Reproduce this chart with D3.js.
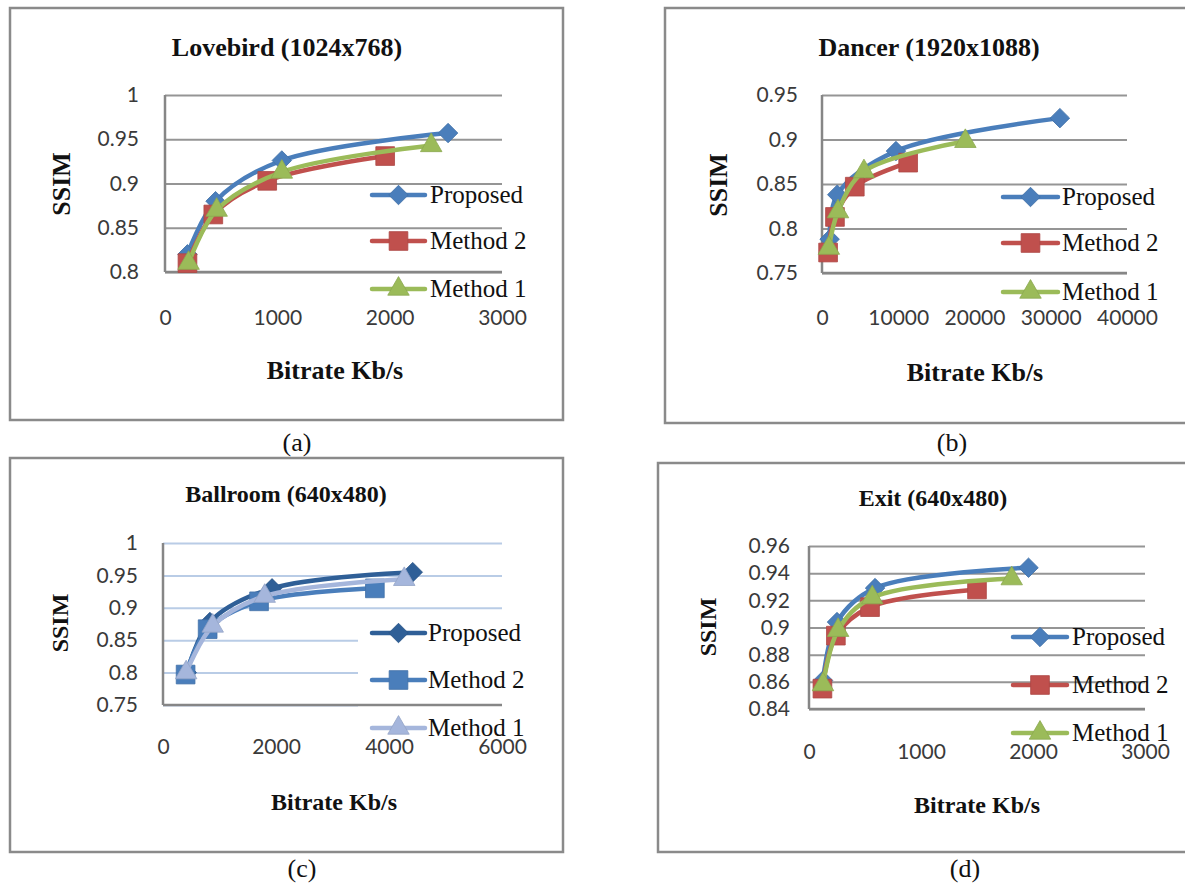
<!DOCTYPE html>
<html>
<head>
<meta charset="utf-8">
<script src="https://cdn.jsdelivr.net/npm/d3@7"></script>
<style>
  body { margin: 0; background: #fff; }
  .serif { font-family: "Liberation Serif", "Times New Roman", serif; }
  .sans { font-family: Lato, "Open Sans", sans-serif; }
</style>
</head>
<body>
<svg id="chart" width="1185" height="883"></svg>
<script>
// legend / series names, same in every plot
const seriesNames = ['Proposed', 'Method 2', 'Method 1'];

// (a) Lovebird
const lovebirdProposed = [[200, 0.82], [450, 0.88], [1040, 0.926], [2520, 0.957]];
const lovebirdMethod2 = [[200, 0.81], [430, 0.865], [910, 0.903], [1960, 0.931]];
const lovebirdMethod1 = [[210, 0.81], [460, 0.87], [1040, 0.913], [2370, 0.943]];
const lovebirdXTicks = [0, 1000, 2000, 3000];
const lovebirdYTicks = [0.8, 0.85, 0.9, 0.95, 1];

// (b) Dancer
const dancerProposed = [[1000, 0.788], [2000, 0.838], [9700, 0.887], [31200, 0.924]];
const dancerMethod2 = [[800, 0.773], [1700, 0.813], [4300, 0.847], [11300, 0.874]];
const dancerMethod1 = [[900, 0.778], [2100, 0.819], [5500, 0.864], [18800, 0.898]];
const dancerXTicks = [0, 10000, 20000, 30000, 40000];
const dancerYTicks = [0.75, 0.8, 0.85, 0.9, 0.95];

// (c) Ballroom
const ballroomProposed = [[420, 0.80], [830, 0.878], [1930, 0.93], [4420, 0.955]];
const ballroomMethod2 = [[400, 0.797], [790, 0.867], [1700, 0.91], [3750, 0.93]];
const ballroomMethod1 = [[410, 0.80], [880, 0.872], [1800, 0.918], [4270, 0.944]];
const ballroomXTicks = [0, 2000, 4000, 6000];
const ballroomYTicks = [0.75, 0.8, 0.85, 0.9, 0.95, 1];

// (d) Exit
const exitProposed = [[125, 0.861], [250, 0.904], [590, 0.929], [1960, 0.944]];
const exitMethod2 = [[120, 0.855], [240, 0.894], [545, 0.915], [1500, 0.928]];
const exitMethod1 = [[125, 0.858], [260, 0.898], [565, 0.922], [1810, 0.936]];
const exitXTicks = [0, 1000, 2000, 3000];
const exitYTicks = [0.84, 0.86, 0.88, 0.9, 0.92, 0.94, 0.96];

const officeColors = ['#4a7ebb', '#c0504d', '#9bbb59'];
const blueColors = ['#2f5f97', '#4a7ebb', '#a5b6dc'];
const symbols = ['diamond', 'square', 'triangle'];

// layout of each panel (pixels)
const panels = [
  {
    series: [lovebirdProposed, lovebirdMethod2, lovebirdMethod1],
    xTicks: lovebirdXTicks, yTicks: lovebirdYTicks,
    frame: [10, 8, 563, 420], plot: [165, 95, 502, 272],
    yGap: 26, xTickY: 318, colors: officeColors, grid: '#959595',
    title: 'Lovebird (1024x768)', titlePos: [287, 56], fs: 26,
    xLabelPos: [335, 379], yLabelPos: [70, 184],
    caption: '(a)', capPos: [297, 451],
    legX: [372, 425, 430], legY: [195, 241, 289]
  },
  {
    series: [dancerProposed, dancerMethod2, dancerMethod1],
    xTicks: dancerXTicks, yTicks: dancerYTicks,
    frame: [665, 8, 1196, 423], plot: [822, 95, 1127, 273],
    yGap: 24, xTickY: 318, colors: officeColors, grid: '#959595',
    title: 'Dancer (1920x1088)', titlePos: [929, 56], fs: 26,
    xLabelPos: [975, 381], yLabelPos: [727, 185],
    caption: '(b)', capPos: [952, 451],
    legX: [1003, 1058, 1062], legY: [197, 243, 292]
  },
  {
    series: [ballroomProposed, ballroomMethod2, ballroomMethod1],
    xTicks: ballroomXTicks, yTicks: ballroomYTicks,
    frame: [10, 458, 563, 852], plot: [163, 543, 502, 705],
    yGap: 25, xTickY: 747, colors: blueColors, grid: '#b9cce6',
    title: 'Ballroom (640x480)', titlePos: [286, 502], fs: 24,
    xLabelPos: [334, 810], yLabelPos: [68, 623],
    caption: '(c)', capPos: [302, 877],
    legX: [372, 425, 428], legY: [633, 680, 728],
    legBox: [358, 612, 190, 140]
  },
  {
    series: [exitProposed, exitMethod2, exitMethod1],
    xTicks: exitXTicks, yTicks: exitYTicks,
    frame: [658, 463, 1196, 852], plot: [809, 546, 1145, 709],
    yGap: 19, xTickY: 752, colors: officeColors, grid: '#959595',
    title: 'Exit (640x480)', titlePos: [933, 506], fs: 24,
    xLabelPos: [977, 813], yLabelPos: [716, 627],
    caption: '(d)', capPos: [965, 877],
    legX: [1013, 1067, 1072], legY: [637, 685, 733]
  }
];

const svg = d3.select('#chart');

function marker(g, type, color, x, y) {
  let path;
  if (type === 'diamond') path = d3.symbol(d3.symbolSquare, 190)();
  else if (type === 'square') path = d3.symbol(d3.symbolSquare, 350)();
  else path = d3.symbol(d3.symbolTriangle, 200)();
  g.append('path')
    .attr('d', path)
    .attr('transform', 'translate(' + x + ',' + y + ')' + (type === 'diamond' ? ' rotate(45)' : ''))
    .attr('fill', color)
    .attr('stroke', d3.color(color).darker(0.3))
    .attr('stroke-width', 0.8);
}

panels.forEach(function (p) {
  const g = svg.append('g');
  const [left, top, right, bottom] = p.plot;

  // outer frame
  g.append('rect')
    .attr('x', p.frame[0]).attr('y', p.frame[1])
    .attr('width', p.frame[2] - p.frame[0]).attr('height', p.frame[3] - p.frame[1])
    .attr('fill', 'none').attr('stroke', '#8a8a8a').attr('stroke-width', 2.5);

  const x = d3.scaleLinear()
    .domain([p.xTicks[0], p.xTicks[p.xTicks.length - 1]])
    .range([left, right]);
  const y = d3.scaleLinear()
    .domain([p.yTicks[0], p.yTicks[p.yTicks.length - 1]])
    .range([bottom, top]);

  // y axis with gridlines
  const yAxis = g.append('g')
    .attr('transform', 'translate(' + left + ',0)')
    .call(d3.axisLeft(y).tickValues(p.yTicks).tickSize(-(right - left))
      .tickPadding(p.yGap).tickFormat(d => String(d)));
  yAxis.select('.domain').remove();
  yAxis.selectAll('line').attr('stroke', p.grid).attr('stroke-width', 2);
  yAxis.selectAll('text')
    .attr('class', 'sans').attr('font-size', 21).attr('fill', '#3a3a3a');

  // white legend box (only Ballroom has one)
  if (p.legBox) {
    g.append('rect')
      .attr('x', p.legBox[0]).attr('y', p.legBox[1])
      .attr('width', p.legBox[2]).attr('height', p.legBox[3])
      .attr('fill', '#fff');
  }

  // x axis
  const xAxis = g.append('g')
    .attr('transform', 'translate(0,' + bottom + ')')
    .call(d3.axisBottom(x).tickValues(p.xTicks).tickSize(0).tickFormat(d => String(d)));
  xAxis.select('.domain').remove();
  xAxis.selectAll('text')
    .attr('class', 'sans').attr('font-size', 21).attr('fill', '#3a3a3a')
    .attr('y', p.xTickY - bottom).attr('dy', '0.35em');

  // axis lines
  g.append('line')
    .attr('x1', left).attr('x2', right).attr('y1', bottom).attr('y2', bottom)
    .attr('stroke', '#868686').attr('stroke-width', 2.5);
  g.append('line')
    .attr('x1', left).attr('x2', left).attr('y1', top).attr('y2', bottom)
    .attr('stroke', '#868686').attr('stroke-width', 2.5);

  // series, smoothed like the spreadsheet lines
  const line = d3.line()
    .x(d => x(d[0]))
    .y(d => y(d[1]))
    .curve(d3.curveCatmullRom.alpha(0.5));

  p.series.forEach(function (s, i) {
    g.append('path')
      .datum(s)
      .attr('d', line)
      .attr('fill', 'none')
      .attr('stroke', p.colors[i])
      .attr('stroke-width', 4.5)
      .attr('stroke-linejoin', 'round');
    s.forEach(d => marker(g, symbols[i], p.colors[i], x(d[0]), y(d[1])));
  });

  // legend
  seriesNames.forEach(function (name, i) {
    const ly = p.legY[i];
    g.append('line')
      .attr('x1', p.legX[0]).attr('x2', p.legX[1]).attr('y1', ly).attr('y2', ly)
      .attr('stroke', p.colors[i]).attr('stroke-width', 4.5).attr('stroke-linecap', 'round');
    marker(g, symbols[i], p.colors[i], (p.legX[0] + p.legX[1]) / 2, ly);
    g.append('text')
      .attr('class', 'serif')
      .attr('x', p.legX[2]).attr('y', ly + 8)
      .attr('font-size', 25).attr('fill', '#111')
      .text(name);
  });

  // titles
  g.append('text')
    .attr('class', 'serif')
    .attr('x', p.titlePos[0]).attr('y', p.titlePos[1])
    .attr('text-anchor', 'middle').attr('font-weight', 'bold')
    .attr('font-size', p.fs).attr('fill', '#111')
    .text(p.title);
  g.append('text')
    .attr('class', 'serif')
    .attr('x', p.xLabelPos[0]).attr('y', p.xLabelPos[1])
    .attr('text-anchor', 'middle').attr('font-weight', 'bold')
    .attr('font-size', p.fs).attr('fill', '#111')
    .text('Bitrate Kb/s');
  g.append('text')
    .attr('class', 'serif')
    .attr('transform', 'translate(' + p.yLabelPos[0] + ',' + p.yLabelPos[1] + ') rotate(-90)')
    .attr('text-anchor', 'middle').attr('font-weight', 'bold')
    .attr('font-size', p.fs).attr('fill', '#111')
    .text('SSIM');

  // caption below the frame
  svg.append('text')
    .attr('class', 'serif')
    .attr('x', p.capPos[0]).attr('y', p.capPos[1])
    .attr('text-anchor', 'middle')
    .attr('font-size', 26).attr('fill', '#111')
    .text(p.caption);
});
</script>
</body>
</html>
